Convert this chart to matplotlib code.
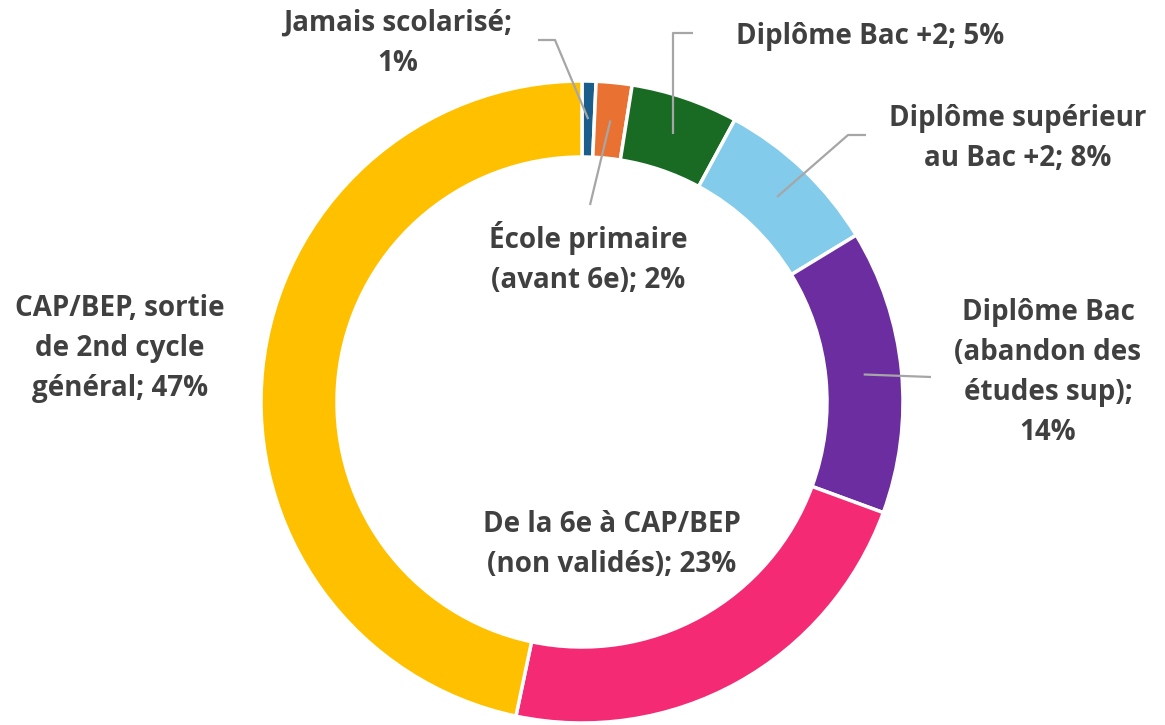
import numpy as np
import matplotlib.pyplot as plt

# données (pourcentages)
categories = ['Jamais scolarisé', 'École primaire (avant 6e)', 'Diplôme Bac +2',
              'Diplôme supérieur au Bac +2', 'Diplôme Bac (abandon des études sup)',
              'De la 6e à CAP/BEP (non validés)', 'CAP/BEP, sortie de 2nd cycle général']
valeurs = [0.7, 1.8, 5.4, 8.4, 14.3, 22.7, 46.7]
pct_labels = ['1%', '2%', '5%', '8%', '14%', '23%', '47%']
couleurs = ['#1B5E8C', '#E97132', '#196B24', '#83CBEB', '#6B2D9F', '#F52A75', '#FFC000']

W, H = 1165, 725
plt.rcParams['font.family'] = ['Open Sans', 'DejaVu Sans']
fig = plt.figure(figsize=(W / 100, H / 100), dpi=100)
ax = fig.add_axes([0, 0, 1, 1])

cx, cy = 582, H - 402
r_out, ring = 321, 76
wedges, _ = ax.pie(valeurs, colors=couleurs, startangle=90, counterclock=False,
                   radius=r_out, center=(cx, cy), frame=True,
                   wedgeprops=dict(width=ring, edgecolor='white', linewidth=2.5))
ax.set_xlim(0, W)
ax.set_ylim(0, H)
ax.axis('off')

def ancre(i):
    w = wedges[i]
    a = np.deg2rad((w.theta1 + w.theta2) / 2)
    r = r_out - ring / 2
    return cx + r * np.cos(a), cy + r * np.sin(a)

txt = dict(color='#404040', fontsize=20, fontweight='bold', ha='center', va='center',
           linespacing=1.5)
lc = dict(color='#A6A6A6', lw=1.6, solid_capstyle='butt')

def Y(y):
    return H - y

# Jamais scolarisé
ax.text(398, Y(43), 'Jamais scolarisé;\n' + pct_labels[0], **txt)
x, y = ancre(0)
ax.plot([538, 555, x], [Y(40), Y(40), y], **lc)

# École primaire
ax.text(588, Y(258), 'École primaire\n(avant 6e); ' + pct_labels[1], **txt)
x, y = ancre(1)
ax.plot([x, 590], [y, Y(205)], **lc)

# Bac +2
ax.text(870, Y(36), 'Diplôme Bac +2; ' + pct_labels[2], **txt)
x, y = ancre(2)
ax.plot([x, x, 693], [y, Y(33), Y(33)], **lc)

# supérieur
ax.text(1018, Y(138), 'Diplôme supérieur\nau Bac +2; ' + pct_labels[3], **txt)
x, y = ancre(3)
ax.plot([x, 848, 866], [y, Y(135), Y(135)], **lc)

# Bac
ax.text(1048, Y(372), 'Diplôme Bac\n(abandon des\nétudes sup);\n' + pct_labels[4], **txt)
x, y = ancre(4)
ax.plot([x, 931], [y, Y(377)], **lc)

# 6e à CAP/BEP
ax.text(612, Y(545), 'De la 6e à CAP/BEP\n(non validés); ' + pct_labels[5], **txt)

# CAP/BEP
ax.text(120, Y(348), 'CAP/BEP, sortie\nde 2nd cycle\ngénéral; ' + pct_labels[6], **txt)

fig.savefig('out.png', dpi=100)
